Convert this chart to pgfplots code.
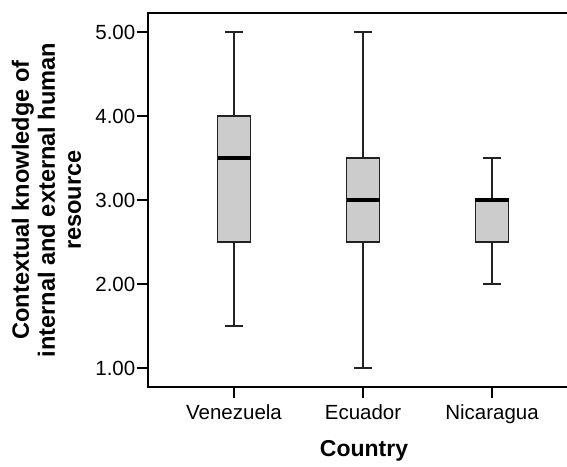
\documentclass[border=0pt]{standalone}
\usepackage{fontspec}
\setmainfont{Liberation Sans}
\usepackage{pgfplots}
\pgfplotsset{compat=1.18}
\usepgfplotslibrary{statistics}
\definecolor{boxgray}{HTML}{CCCCCC}
\definecolor{edgegray}{HTML}{222222}
\begin{document}
\begin{tikzpicture}
\begin{axis}[name=ax, at={(0,0)}, anchor=south west,
  scale only axis, width=421pt, height=374pt,
  xmin=-0.667, xmax=2.597, ymin=0.774, ymax=5.226,
  axis line style={line width=1.5pt, black},
  xtick={0,1,2}, xticklabels={Venezuela,Ecuador,Nicaragua},
  ytick={1,2,3,4,5},
  minor tick num=0,
  /pgf/number format/assume math mode=true,
  yticklabel={\pgfmathprintnumber[fixed,fixed zerofill,precision=2]{\tick}},
  xtick pos=left, ytick pos=left,
  tick align=outside,
  major tick length=11pt,
  every tick/.style={draw=black, line width=1.4pt},
  major tick style={draw=black, line width=1.4pt},
  tick label style={font=\fontsize{20.5}{24}\selectfont},
  yticklabel style={inner xsep=1.5pt},
  xticklabel style={inner ysep=6pt},
  xlabel={Country},
  xlabel style={font=\fontsize{23}{27}\selectfont\bfseries, at={(axis description cs:0.513,-0.187)}, anchor=base},
  ylabel={Contextual knowledge of\\internal and external human\\resource},
  ylabel style={font=\fontsize{23.6}{26}\selectfont\bfseries, align=center, at={(axis description cs:-0.241,0.5)}, anchor=center},
  boxplot/draw direction=y,
  boxplot/every median/.style={line width=4.5pt, draw=black},
]
\addplot[draw=edgegray, fill=boxgray, line width=1.6pt,
  boxplot prepared={draw position=0, lower whisker=1.5, lower quartile=2.5, median=3.5, upper quartile=4.0, upper whisker=5.0, box extend=0.256, whisker extend=0.14}]
  coordinates {};
\addplot[draw=edgegray, fill=boxgray, line width=1.6pt,
  boxplot prepared={draw position=1, lower whisker=1.0, lower quartile=2.5, median=3.0, upper quartile=3.5, upper whisker=5.0, box extend=0.256, whisker extend=0.14}]
  coordinates {};
\addplot[draw=edgegray, fill=boxgray, line width=1.6pt,
  boxplot prepared={draw position=2, lower whisker=2.0, lower quartile=2.5, median=3.0, upper quartile=3.0, upper whisker=3.5, box extend=0.256, whisker extend=0.14}]
  coordinates {};
\end{axis}
\pgfresetboundingbox
\useasboundingbox (-148pt,-79pt) rectangle (419pt,387pt);
\end{tikzpicture}
\end{document}
